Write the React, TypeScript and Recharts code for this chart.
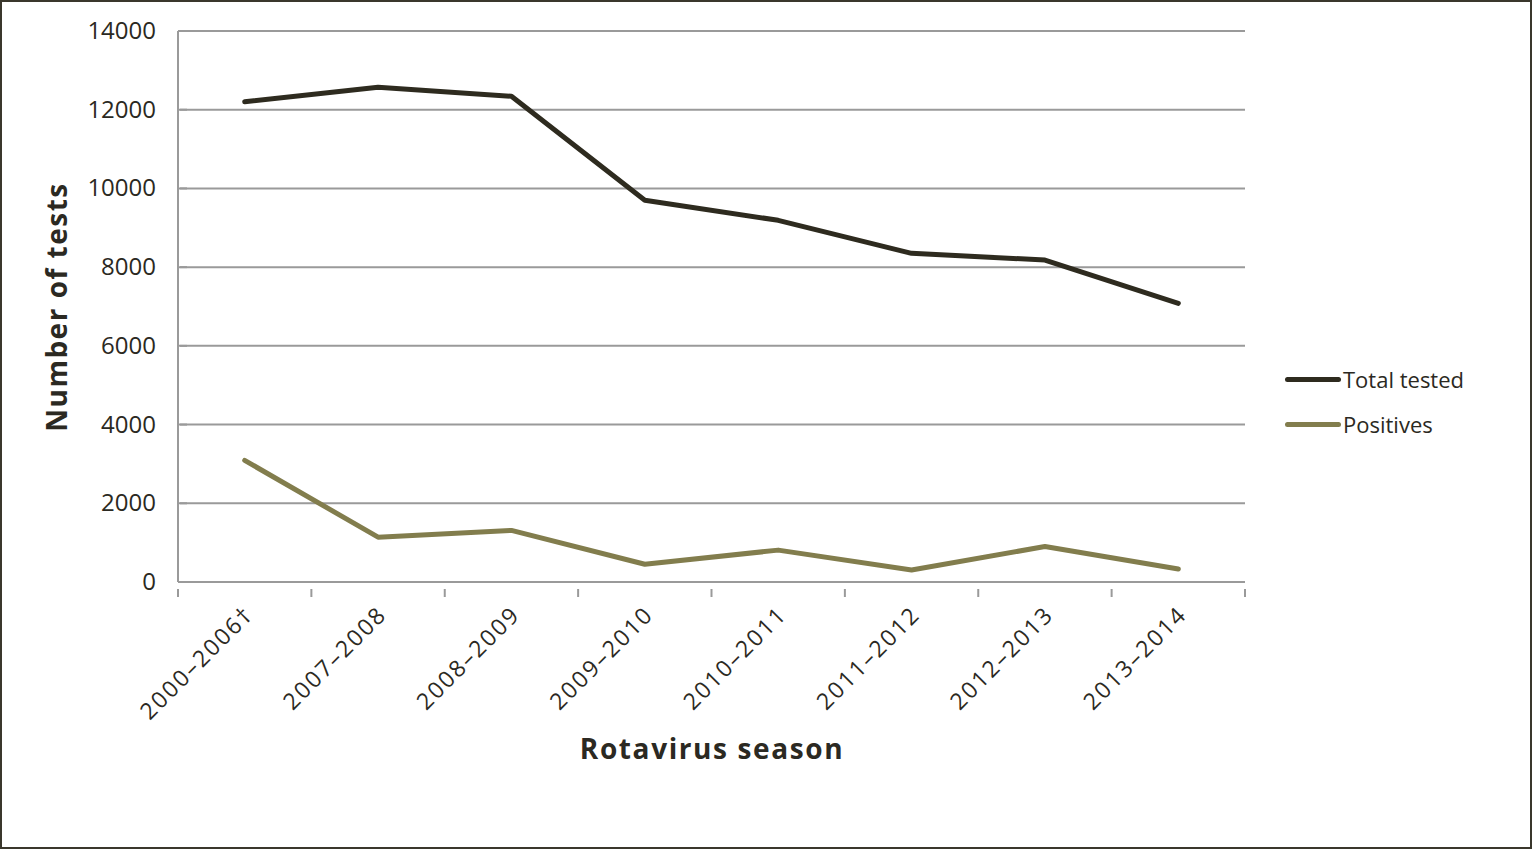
import React from "react";
import { LineChart, Line, XAxis, YAxis, CartesianGrid } from "recharts";

// Rotavirus testing by season
const seasons = [
  "2000–2006†",
  "2007–2008",
  "2008–2009",
  "2009–2010",
  "2010–2011",
  "2011–2012",
  "2012–2013",
  "2013–2014",
];
const totalTested = [12200, 12570, 12340, 9700, 9190, 8350, 8180, 7080];
const positives = [3090, 1140, 1310, 450, 810, 305, 900, 330];
const yTicks = [0, 2000, 4000, 6000, 8000, 10000, 12000, 14000];

const FONT = "'Open Sans', sans-serif";
const TEXT = "#2b2922";
const GRID = "#9a9a9a";
const DARK = "#2e2b1f";
const OLIVE = "#827d4d";

const series = [
  { key: "total", name: "Total tested", color: DARK },
  { key: "positives", name: "Positives", color: OLIVE },
];

const data = seasons.map((s, i) => ({
  pos: i + 0.5,
  season: s,
  total: totalTested[i],
  positives: positives[i],
}));

// boundaries get a tick mark, centres get the rotated season label
const xTicks: number[] = [];
for (let i = 0; i <= seasons.length * 2; i++) xTicks.push(i / 2);

const XTick = (props: any) => {
  const { x, y, payload } = props;
  const v = payload.value as number;
  if (Number.isInteger(v)) {
    return <line x1={x} y1={y - 1} x2={x} y2={y + 7} stroke={GRID} strokeWidth={2} />;
  }
  const label = seasons[Math.floor(v)];
  const ax = x + 10;
  const ay = y + 26;
  return (
    <text
      x={ax}
      y={ay}
      textAnchor="end"
      transform={`rotate(-45, ${ax}, ${ay})`}
      fill={TEXT}
      fontFamily={FONT}
      fontSize={23}
      letterSpacing={2}
    >
      {label}
    </text>
  );
};

const YTick = (props: any) => {
  const { x, y, payload } = props;
  return (
    <g>
      <line x1={x + 10} y1={y} x2={x + 17} y2={y} stroke={GRID} strokeWidth={2} />
      <text x={x - 14} y={y + 8} textAnchor="end" fill={TEXT} fontFamily={FONT} fontSize={24}>
        {payload.value}
      </text>
    </g>
  );
};

export default function App() {
  return (
    <div style={{ position: "absolute", left: 0, top: 0, width: 1532, height: 849, background: "#fff" }}>
      <LineChart
        width={1532}
        height={849}
        data={data}
        margin={{ top: 31, right: 287, bottom: 127, left: 0 }}
      >
        <CartesianGrid vertical={false} stroke={GRID} strokeWidth={2} />
        <XAxis
          dataKey="pos"
          type="number"
          domain={[0, seasons.length]}
          ticks={xTicks}
          interval={0}
          tick={<XTick />}
          tickLine={false}
          axisLine={{ stroke: GRID, strokeWidth: 2 }}
          height={140}
        />
        <YAxis
          type="number"
          domain={[0, 14000]}
          ticks={yTicks}
          interval={0}
          width={178}
          tick={<YTick />}
          tickLine={false}
          axisLine={{ stroke: GRID, strokeWidth: 2 }}
        />
        {series.map((s) => (
          <Line
            key={s.key}
            dataKey={s.key}
            name={s.name}
            stroke={s.color}
            strokeWidth={5}
            dot={false}
            strokeLinecap="round"
            strokeLinejoin="round"
            isAnimationActive={false}
          />
        ))}
      </LineChart>
      {/* legend */}
      <div style={{ position: "absolute", left: 1285, top: 364, fontFamily: FONT, fontSize: 22, color: TEXT }}>
        {series.map((s, i) => (
          <div
            key={s.key}
            style={{ display: "flex", alignItems: "center", height: 30, marginBottom: i === 0 ? 15 : 0 }}
          >
            <div style={{ width: 56, height: 5, borderRadius: 3, background: s.color }} />
            <span style={{ marginLeft: 2 }}>{s.name}</span>
          </div>
        ))}
      </div>
      <div
        style={{
          position: "absolute",
          left: 56,
          top: 307,
          transform: "translate(-50%, -50%) rotate(-90deg)",
          whiteSpace: "nowrap",
          fontFamily: FONT,
          fontWeight: 700,
          fontSize: 28,
          letterSpacing: 1.5,
          color: TEXT,
        }}
      >
        Number of tests
      </div>
      <div
        style={{
          position: "absolute",
          left: 712,
          top: 748,
          transform: "translate(-50%, -50%)",
          whiteSpace: "nowrap",
          fontFamily: FONT,
          fontWeight: 700,
          fontSize: 28,
          letterSpacing: 1.6,
          color: TEXT,
        }}
      >
        Rotavirus season
      </div>
      <div
        style={{
          position: "absolute",
          left: 0,
          top: 0,
          width: 1532,
          height: 849,
          boxSizing: "border-box",
          border: "2px solid #3a372c",
          pointerEvents: "none",
        }}
      />
    </div>
  );
}
